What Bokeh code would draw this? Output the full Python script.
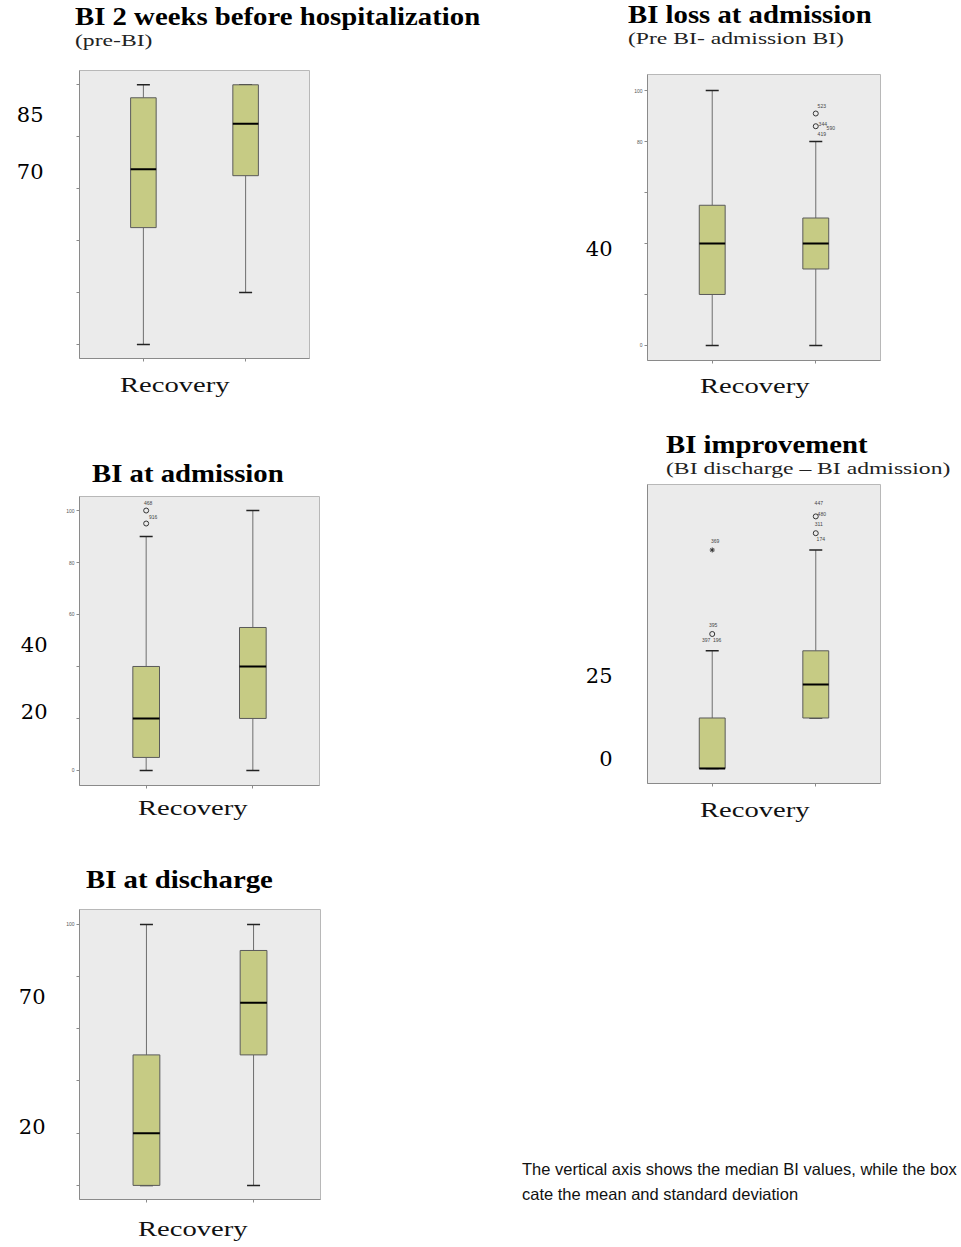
import html
from bokeh.plotting import figure
from bokeh.models import (FactorRange, FixedTicker, LinearAxis, Whisker, TeeHead,
                          ColumnDataSource, Div, Range1d)
from bokeh.layouts import column, row
from bokeh.embed import file_html
from bokeh.resources import INLINE

groups = ["0", "1"]

# ---- Panel 1: BI 2 weeks before hospitalization
p1_title = "BI 2 weeks before hospitalization"
p1_sub = "(pre-BI)"
p1_low = [0, 20]
p1_q1 = [45, 65]
p1_med = [67.5, 85]
p1_q3 = [95, 100]
p1_high = [100, 100]
p1_ticks = [0, 20, 40, 60, 80, 100]
p1_tick_labels = ["", "", "", "", "", ""]
p1_big_labels = ["85", "70"]
p1_big_pos = [88.6, 66.6]
p1_out_grp, p1_out_val, p1_out_mark = [], [], []
p1_lab_grp, p1_lab_val, p1_lab_text, p1_lab_dx = [], [], [], []

# ---- Panel 2: BI loss at admission
p2_title = "BI loss at admission"
p2_sub = "(Pre BI- admission BI)"
p2_low = [0, 0]
p2_q1 = [20, 30]
p2_med = [40, 40]
p2_q3 = [55, 50]
p2_high = [100, 80]
p2_ticks = [0, 20, 40, 60, 80, 100]
p2_tick_labels = ["0", "", "", "", "80", "100"]
p2_big_labels = ["40"]
p2_big_pos = [38.0]
p2_out_grp = ["1", "1"]
p2_out_val = [91, 86]
p2_out_mark = ["circle", "circle"]
p2_lab_grp = ["1", "1", "1", "1"]
p2_lab_val = [94.1, 87.0, 85.5, 83.1]
p2_lab_text = ["523", "344", "590", "419"]
p2_lab_dx = [6, 7, 15, 6]

# ---- Panel 3: BI at admission
p3_title = "BI at admission"
p3_low = [0, 0]
p3_q1 = [5, 20]
p3_med = [20, 40]
p3_q3 = [40, 55]
p3_high = [90, 100]
p3_ticks = [0, 20, 40, 60, 80, 100]
p3_tick_labels = ["0", "", "", "60", "80", "100"]
p3_big_labels = ["40", "20"]
p3_big_pos = [48.5, 22.7]
p3_out_grp = ["0", "0"]
p3_out_val = [100, 95]
p3_out_mark = ["circle", "circle"]
p3_lab_grp = ["0", "0"]
p3_lab_val = [103.0, 97.7]
p3_lab_text = ["468", "916"]
p3_lab_dx = [2, 7]

# ---- Panel 4: BI improvement
p4_title = "BI improvement"
p4_sub = "(BI discharge \u2013 BI admission)"
p4_low = [0, 15]
p4_q1 = [0, 15]
p4_med = [0, 25]
p4_q3 = [15, 35]
p4_high = [35, 65]
p4_ticks = []
p4_tick_labels = []
p4_big_labels = ["25", "0"]
p4_big_pos = [27.7, 3.0]
p4_out_grp = ["0", "0", "1", "1"]
p4_out_val = [65, 40, 75, 70]
p4_out_mark = ["asterisk", "circle", "circle", "circle"]
p4_lab_grp = ["0", "0", "0", "0", "1", "1", "1", "1"]
p4_lab_val = [67.6, 42.6, 38.1, 38.1, 78.9, 75.6, 72.6, 68.2]
p4_lab_text = ["369", "395", "397", "196", "447", "480", "311", "174"]
p4_lab_dx = [3, 1, -6, 5, 3, 6, 3, 5]

# ---- Panel 5: BI at discharge
p5_title = "BI at discharge"
p5_low = [0, 0]
p5_q1 = [0, 50]
p5_med = [20, 70]
p5_q3 = [50, 90]
p5_high = [100, 100]
p5_ticks = [0, 20, 40, 60, 80, 100]
p5_tick_labels = ["", "", "", "", "", "100"]
p5_big_labels = ["70", "20"]
p5_big_pos = [72.4, 22.6]
p5_out_grp, p5_out_val, p5_out_mark = [], [], []
p5_lab_grp, p5_lab_val, p5_lab_text, p5_lab_dx = [], [], [], []

x_label = "Recovery"
note_lines = ["The vertical axis shows the median BI values, while the box",
              "cate the mean and standard deviation"]

BOX_FILL = "#c6cb84"
TIMES = "'Liberation Serif','Times New Roman',serif"
SANS = "'Liberation Sans',Arial,sans-serif"


def T(text, left, top, size, weight="normal", sx=1.0, fam=TIMES, color="#000"):
    return (text, left, top, size, weight, sx, fam, color)


def text_div(width, height, items):
    spans = []
    for (t, left, top, size, weight, sx, fam, color) in items:
        spans.append(
            f'<span style="position:absolute;left:{left}px;top:{top}px;white-space:nowrap;'
            f'font-family:{fam};font-size:{size}px;line-height:{size}px;font-weight:{weight};'
            f'color:{color};transform:scaleX({sx});transform-origin:0 0;">'
            f'{html.escape(t)}</span>')
    inner = (f'<div style="position:relative;width:{width}px;height:{height}px;margin:0;padding:0;">'
             + "".join(spans) + '</div>')
    return Div(text=inner, width=width, height=height, margin=0)


def title_item(text, left, top):
    return T(text, left, top, 25, "bold", 1.15)


def sub_item(text, left, top):
    return T(text, left, top, 17.5, "normal", 1.35, color="#222")


def xlab_item(left, top):
    return T(x_label, left, top, 22, "normal", 1.3, color="#111")


def make_panel(low, q1, med, q3, high, ticks, tick_labels,
               big_labels, big_pos, out_grp, out_val, out_mark,
               lab_grp, lab_val, lab_text, lab_dx,
               yr, fw, fh, bl, br, big_stand, bt=6, bb=10):
    p = figure(x_range=FactorRange(factors=groups, range_padding=0.125,
                                   range_padding_units="absolute"),
               y_range=Range1d(*yr),
               frame_width=fw, frame_height=fh,
               min_border_left=bl, min_border_right=br,
               min_border_top=bt, min_border_bottom=bb,
               output_backend="svg", toolbar_location=None, title=None,
               background_fill_color="#ebebeb", border_fill_color="white",
               outline_line_color="#b8b8b8")
    p.xgrid.visible = False
    p.ygrid.visible = False

    src = ColumnDataSource(dict(x=groups, low=low, q1=q1, med=med, q3=q3, high=high))
    up = Whisker(source=src, base="x", lower="q3", upper="high", dimension="height",
                 line_color="#6e6e6e", line_width=1,
                 upper_head=TeeHead(size=13, line_color="#222222", line_width=1.5),
                 lower_head=None, level="underlay")
    lo = Whisker(source=src, base="x", lower="low", upper="q1", dimension="height",
                 line_color="#6e6e6e", line_width=1,
                 lower_head=TeeHead(size=13, line_color="#222222", line_width=1.5),
                 upper_head=None, level="underlay")
    p.add_layout(up)
    p.add_layout(lo)
    p.vbar(x="x", top="q3", bottom="q1", width=0.25, source=src,
           fill_color=BOX_FILL, line_color="#5a5a5a", line_width=1)
    p.rect(x="x", y="med", width=0.25, height=2, height_units="screen", source=src,
           fill_color="black", line_color=None)

    if out_grp:
        p.scatter(x=out_grp, y=out_val, marker=out_mark, size=5,
                  fill_color=None, line_color="#333333", line_width=1)
    if lab_grp:
        p.text(x=lab_grp, y=lab_val, text=lab_text, x_offset=lab_dx,
               text_font_size="5px", text_color="#444444",
               text_align="center", text_baseline="middle")

    ya = p.yaxis[0]
    ya.ticker = FixedTicker(ticks=ticks)
    ya.major_label_overrides = {t: l for t, l in zip(ticks, tick_labels)}
    ya.major_label_text_font_size = "5px"
    ya.major_label_text_color = "#555555"
    ya.major_label_standoff = 2
    ya.major_tick_out = 3
    ya.major_tick_in = 0
    ya.minor_tick_line_color = None
    ya.axis_line_color = "#8a8a8a"
    ya.major_tick_line_color = "#8a8a8a" if ticks else None

    ba = LinearAxis(ticker=FixedTicker(ticks=big_pos),
                    major_label_overrides={v: l for v, l in zip(big_pos, big_labels)},
                    axis_line_color=None, major_tick_line_color=None,
                    minor_tick_line_color=None,
                    major_label_text_font="DejaVu Serif",
                    major_label_text_font_size="21px",
                    major_label_text_color="black",
                    major_label_standoff=big_stand)
    p.add_layout(ba, "left")

    xa = p.xaxis[0]
    xa.major_label_text_font_size = "1px"
    xa.major_label_text_alpha = 0
    xa.major_label_standoff = 0
    xa.major_tick_out = 3
    xa.major_tick_in = 0
    xa.axis_line_color = "#8a8a8a"
    xa.major_tick_line_color = "#8a8a8a"
    return p


LW = 512   # left column width
RW = 445   # right column width

pA = make_panel(p1_low, p1_q1, p1_med, p1_q3, p1_high,
                p1_ticks, p1_tick_labels, p1_big_labels, p1_big_pos,
                p1_out_grp, p1_out_val, p1_out_mark,
                p1_lab_grp, p1_lab_val, p1_lab_text, p1_lab_dx,
                yr=(-5.4, 105.5), fw=230, fh=288, bl=76, br=LW - 76 - 230, big_stand=27)
pC = make_panel(p3_low, p3_q1, p3_med, p3_q3, p3_high,
                p3_ticks, p3_tick_labels, p3_big_labels, p3_big_pos,
                p3_out_grp, p3_out_val, p3_out_mark,
                p3_lab_grp, p3_lab_val, p3_lab_text, p3_lab_dx,
                yr=(-5.8, 105.4), fw=240, fh=289, bl=77, br=LW - 77 - 240, big_stand=10)
pE = make_panel(p5_low, p5_q1, p5_med, p5_q3, p5_high,
                p5_ticks, p5_tick_labels, p5_big_labels, p5_big_pos,
                p5_out_grp, p5_out_val, p5_out_mark,
                p5_lab_grp, p5_lab_val, p5_lab_text, p5_lab_dx,
                yr=(-5.4, 105.7), fw=241, fh=290, bl=79, br=LW - 79 - 241, big_stand=12)
pB = make_panel(p2_low, p2_q1, p2_med, p2_q3, p2_high,
                p2_ticks, p2_tick_labels, p2_big_labels, p2_big_pos,
                p2_out_grp, p2_out_val, p2_out_mark,
                p2_lab_grp, p2_lab_val, p2_lab_text, p2_lab_dx,
                yr=(-5.9, 106.3), fw=233, fh=286, bl=135, br=RW - 135 - 233, big_stand=13)
pD = make_panel(p4_low, p4_q1, p4_med, p4_q3, p4_high,
                p4_ticks, p4_tick_labels, p4_big_labels, p4_big_pos,
                p4_out_grp, p4_out_val, p4_out_mark,
                p4_lab_grp, p4_lab_val, p4_lab_text, p4_lab_dx,
                yr=(-4.5, 84.5), fw=233, fh=299, bl=132, br=RW - 132 - 233, big_stand=29)

# left column text blocks
L0 = text_div(LW, 64, [title_item(p1_title, 75, 4), sub_item(p1_sub, 75, 32)])
L1 = text_div(LW, 122, [xlab_item(120, 5.6), title_item(p3_title, 92, 93)])
L2 = text_div(LW, 108, [xlab_item(138, 1.6), title_item(p5_title, 86, 71.6)])
L3 = text_div(LW, 36, [xlab_item(138, 8.6)])

# right column text blocks
R0 = text_div(RW, 68, [title_item(p2_title, 116, 2), sub_item(p2_sub, 116, 29.5)])
R1 = text_div(RW, 108, [xlab_item(188, 4.6), title_item(p4_title, 154, 62),
                        sub_item(p4_sub, 154, 90)])
R2 = text_div(RW, 452, [xlab_item(188, 5.6),
                        T(note_lines[0], 10, 368, 16.5, fam=SANS, color="#111"),
                        T(note_lines[1], 10, 393, 16.5, fam=SANS, color="#111")])

left = column(L0, pA, L1, pC, L2, pE, L3, spacing=0)
right = column(R0, pB, R1, pD, R2, spacing=0)
layout = row(left, right, spacing=0)

open("out.html", "w").write(file_html(layout, INLINE))
